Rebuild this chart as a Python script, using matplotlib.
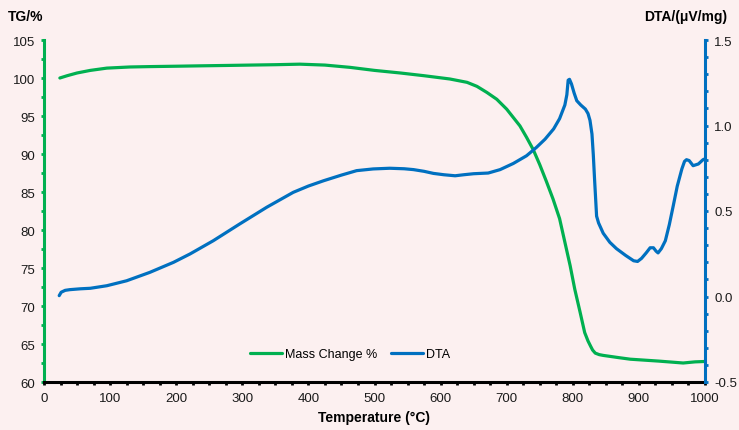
import matplotlib
matplotlib.use("Agg")
import matplotlib.pyplot as plt
from matplotlib.ticker import MultipleLocator, FormatStrFormatter

plt.rcParams['font.family'] = ['Liberation Sans', 'DejaVu Sans']
plt.rcParams['axes.unicode_minus'] = False

# TG (mass change %) vs temperature
tg_temp = [24, 35, 50, 70, 95, 130, 160, 200, 236, 275, 312, 350, 387, 425, 463, 500, 539,
           575, 614, 640, 655, 670, 685, 700, 710, 720, 730, 740, 750, 760, 770, 780, 788,
           796, 803, 811, 818, 823, 827, 830, 834, 840, 846, 870, 887, 930, 967, 985, 1000]
tg_mass = [100.0, 100.3, 100.66, 101.0, 101.3, 101.45, 101.5, 101.55, 101.6, 101.65, 101.7,
           101.75, 101.82, 101.7, 101.4, 101.0, 100.66, 100.3, 99.87, 99.43, 98.9, 98.1, 97.2,
           95.9, 94.8, 93.7, 92.2, 90.6, 88.6, 86.4, 84.1, 81.5, 78.4, 75.3, 72.2, 69.2, 66.5,
           65.4, 64.7, 64.2, 63.8, 63.6, 63.5, 63.2, 63.0, 62.75, 62.5, 62.65, 62.7]

# DTA vs temperature
dta_temp = [23, 26, 32, 39, 55, 70, 95, 125, 160, 196, 221, 256, 296, 337, 377, 400, 423,
            450, 473, 498, 523, 545, 559, 575, 589, 605, 622, 635, 650, 672, 690, 710, 730,
            745, 758, 771, 780, 788, 791, 793, 795, 798, 802, 806, 812, 819, 823, 826, 829,
            831, 833, 836, 839, 846, 856, 866, 880, 892, 898, 904, 911, 917, 922, 926, 929,
            934, 940, 946, 952, 958, 965, 969, 972, 976, 982, 990, 997, 1000]
dta_val = [0.005, 0.025, 0.036, 0.040, 0.045, 0.048, 0.063, 0.092, 0.141, 0.200, 0.249, 0.326,
           0.424, 0.522, 0.609, 0.646, 0.677, 0.710, 0.736, 0.746, 0.750, 0.747, 0.742, 0.732,
           0.720, 0.712, 0.706, 0.712, 0.718, 0.722, 0.742, 0.778, 0.823, 0.872, 0.920, 0.980,
           1.040, 1.120, 1.180, 1.265, 1.270, 1.243, 1.190, 1.145, 1.120, 1.096, 1.070, 1.030,
           0.950, 0.830, 0.680, 0.470, 0.430, 0.370, 0.317, 0.280, 0.240, 0.209, 0.205, 0.223,
           0.255, 0.285, 0.285, 0.265, 0.255, 0.280, 0.326, 0.420, 0.531, 0.645, 0.746, 0.790,
           0.800, 0.795, 0.765, 0.775, 0.800, 0.805]

green = '#00B050'
blue = '#0070C0'
bg = '#FCF0F0'

fig = plt.figure(figsize=(7.39, 4.31), dpi=100, facecolor=bg)
ax = fig.add_axes([44/739, 1-383/431, (705-44)/739, (383-41)/431])
ax.set_facecolor(bg)
ax2 = ax.twinx()

l1, = ax.plot(tg_temp, tg_mass, color=green, lw=2.3, solid_capstyle='round',
              solid_joinstyle='round', label='Mass Change %')
l2, = ax2.plot(dta_temp, dta_val, color=blue, lw=2.3, solid_capstyle='round',
               solid_joinstyle='round', label='DTA')

ax.set_xlim(0, 1000)
ax.set_ylim(60, 105)
ax2.set_ylim(-0.5, 1.5)

ax.xaxis.set_major_locator(MultipleLocator(100))
ax.xaxis.set_minor_locator(MultipleLocator(25))
ax.yaxis.set_major_locator(MultipleLocator(5))
ax.yaxis.set_minor_locator(MultipleLocator(2.5))
ax2.yaxis.set_major_locator(MultipleLocator(0.5))
ax2.yaxis.set_minor_locator(MultipleLocator(0.1))
ax2.yaxis.set_major_formatter(FormatStrFormatter('%.1f'))

for a in (ax, ax2):
    a.spines['top'].set_visible(False)
ax.spines['left'].set_color(green)
ax.spines['left'].set_linewidth(2.2)
ax.spines['bottom'].set_color('black')
ax.spines['bottom'].set_linewidth(2.2)
ax.spines['right'].set_visible(False)
ax2.spines['left'].set_visible(False)
ax2.spines['bottom'].set_visible(False)
ax2.spines['right'].set_color(blue)
ax2.spines['right'].set_linewidth(2.2)

ax.tick_params(axis='x', which='both', direction='out', length=2.5, width=2, color='black',
               labelsize=9.5, pad=5, labelcolor='#1a1a1a')
ax.tick_params(axis='y', which='both', direction='out', length=2.5, width=2, color=green,
               labelsize=9.5, pad=4, labelcolor='#1a1a1a')
ax2.tick_params(axis='y', which='both', direction='out', length=2.5, width=2, color=blue,
                labelsize=9.5, pad=4, labelcolor='#1a1a1a')

ax.set_xlabel('Temperature (°C)', fontsize=10, fontweight='bold', labelpad=4)
fig.text(8/739, 1-17/431, 'TG/%', fontsize=10, fontweight='bold', ha='left', va='center')
fig.text(727/739, 1-17/431, 'DTA/(μV/mg)', fontsize=10, fontweight='bold', ha='right', va='center')

leg = ax.legend(handles=[l1, l2], loc='center', bbox_to_anchor=(350/739, 1-355/431),
                bbox_transform=fig.transFigure, ncol=2, frameon=False, fontsize=9,
                handlelength=2.6, handletextpad=0.2, columnspacing=1.1)

fig.savefig('out.png', dpi=100, facecolor=bg)
